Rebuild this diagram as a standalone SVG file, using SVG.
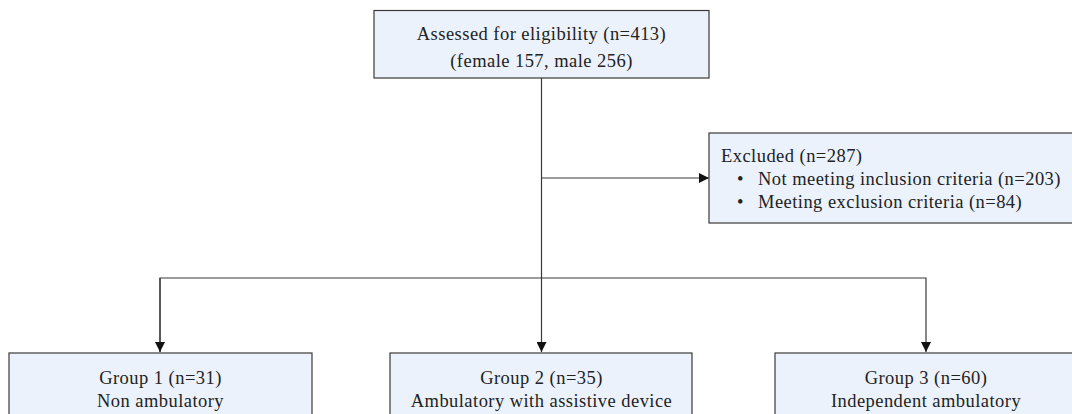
<svg xmlns="http://www.w3.org/2000/svg" width="1072" height="414" viewBox="0 0 1072 414">
<style>
.box{fill:#ebf2fb;stroke:#3a3a3a;stroke-width:1.2}
.t{font-family:'Liberation Serif','DejaVu Serif',serif;font-size:18.5px;letter-spacing:0.45px;fill:#222}
.c{text-anchor:middle}
.ln{fill:none;stroke:#3a3a3a;stroke-width:1.2}
</style>
<defs>
<marker id="ah" viewBox="0 0 10 10" refX="10" refY="5" markerWidth="11" markerHeight="10" markerUnits="userSpaceOnUse" orient="auto">
<path d="M0,0 L10,5 L0,10 z" fill="#111"/>
</marker>
</defs>
<g id="connectors">
<line class="ln" x1="541.5" y1="78" x2="541.5" y2="352" marker-end="url(#ah)"/>
<line class="ln" x1="541.5" y1="178" x2="709" y2="178" marker-end="url(#ah)"/>
<polyline class="ln" points="160,352 160,278 926,278 926,352" marker-end="url(#ah)"/>
<line class="ln" x1="160" y1="278" x2="160" y2="352" marker-end="url(#ah)"/>
</g>
<g id="assessed">
<rect class="box" x="374" y="10.5" width="335" height="67.5"/>
<text class="t c" x="541.5" y="40">Assessed for eligibility (n=413)</text>
<text class="t c" x="541.5" y="67">(female 157, male 256)</text>
</g>
<g id="excluded">
<rect class="box" x="709" y="133" width="370" height="90"/>
<text class="t" x="721" y="162">Excluded (n=287)</text>
<text class="t" x="737" y="185">•</text>
<text class="t" x="758" y="185">Not meeting inclusion criteria (n=203)</text>
<text class="t" x="737" y="208">•</text>
<text class="t" x="758" y="208">Meeting exclusion criteria (n=84)</text>
</g>
<g id="group1">
<rect class="box" x="9" y="353" width="303" height="80"/>
<text class="t c" x="160.5" y="384">Group 1 (n=31)</text>
<text class="t c" x="160.5" y="407">Non ambulatory</text>
</g>
<g id="group2">
<rect class="box" x="390" y="353" width="302" height="80"/>
<text class="t c" x="541.5" y="384">Group 2 (n=35)</text>
<text class="t c" x="541.5" y="407">Ambulatory with assistive device</text>
</g>
<g id="group3">
<rect class="box" x="775" y="353" width="302" height="80"/>
<text class="t c" x="926" y="384">Group 3 (n=60)</text>
<text class="t c" x="926" y="407">Independent ambulatory</text>
</g>
</svg>
